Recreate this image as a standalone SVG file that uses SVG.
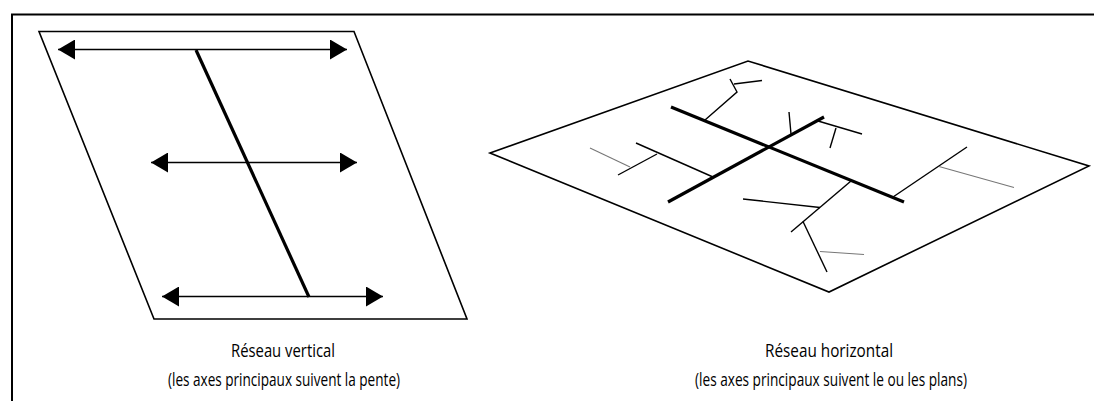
<svg xmlns="http://www.w3.org/2000/svg" width="1094" height="401" viewBox="0 0 1094 401">
<defs>
<style>
.frame{fill:none;stroke:#000;stroke-width:2}
.plane{fill:none;stroke:#000;stroke-width:1.6;stroke-linejoin:miter}
.arrow{stroke:#000;stroke-width:1.6;fill:none}
.main{stroke:#000;stroke-width:3.2;stroke-linecap:butt;fill:none}
.br{stroke:#000;stroke-width:1.4;fill:none}
.thin{stroke:#777;stroke-width:1.1;fill:none}
.lbl{font-family:"Open Sans","Noto Sans",sans-serif;font-size:18px;fill:#000;text-anchor:middle}
</style>
<marker id="ah" viewBox="0 0 17 20" refX="17" refY="10" markerWidth="17" markerHeight="20" markerUnits="userSpaceOnUse" orient="auto-start-reverse">
<path d="M0,0 L17,10 L0,20 Z" fill="#000"/>
</marker>
</defs>
<rect class="frame" x="12" y="14.5" width="1100" height="400"/>
<g id="vertical-network">
<polygon class="plane" points="39,31.5 354,31.5 467,319 154,319"/>
<line class="main" x1="196" y1="50" x2="309" y2="297"/>
</g>
<g id="horizontal-network">
<polygon class="plane" points="490,153 748,61 1089,166 829,292"/>
<line class="main" x1="671" y1="107" x2="904" y2="202"/>
<line class="main" x1="668" y1="202" x2="824" y2="117"/>
<polyline class="br" points="705,120 737,92 730,79"/>
<line class="br" x1="734" y1="84" x2="762" y2="80.5"/>
<line class="br" x1="713" y1="177" x2="636" y2="143"/>
<line class="br" x1="657" y1="154" x2="618" y2="175"/>
<line class="thin" x1="590" y1="148" x2="630" y2="167"/>
<line class="br" x1="789" y1="112" x2="791" y2="134"/>
<line class="br" x1="818" y1="121" x2="862" y2="134"/>
<line class="br" x1="836" y1="128" x2="830" y2="148"/>
<line class="br" x1="851" y1="181" x2="791" y2="232"/>
<line class="br" x1="743" y1="199" x2="820" y2="207.5"/>
<line class="br" x1="803" y1="221.5" x2="827" y2="272"/>
<line class="thin" x1="820" y1="251.5" x2="864" y2="254.5"/>
<line class="br" x1="893" y1="197" x2="967" y2="147"/>
<line class="thin" x1="939" y1="166.5" x2="1014" y2="187.5"/>
</g>
<g id="connectors">
<line class="arrow" x1="58" y1="49.5" x2="347" y2="49.5" marker-start="url(#ah)" marker-end="url(#ah)"/>
<line class="arrow" x1="151" y1="162.5" x2="357" y2="162.5" marker-start="url(#ah)" marker-end="url(#ah)"/>
<line class="arrow" x1="162" y1="296.5" x2="383" y2="296.5" marker-start="url(#ah)" marker-end="url(#ah)"/>
</g>
<g id="labels">
<text class="lbl" x="283" y="357" textLength="104" lengthAdjust="spacingAndGlyphs">Réseau vertical</text>
<text class="lbl" x="284" y="386" textLength="232" lengthAdjust="spacingAndGlyphs">(les axes principaux suivent la pente)</text>
<text class="lbl" x="829" y="357" textLength="128" lengthAdjust="spacingAndGlyphs">Réseau horizontal</text>
<text class="lbl" x="831" y="386" textLength="272" lengthAdjust="spacingAndGlyphs">(les axes principaux suivent le ou les plans)</text>
</g>
</svg>
